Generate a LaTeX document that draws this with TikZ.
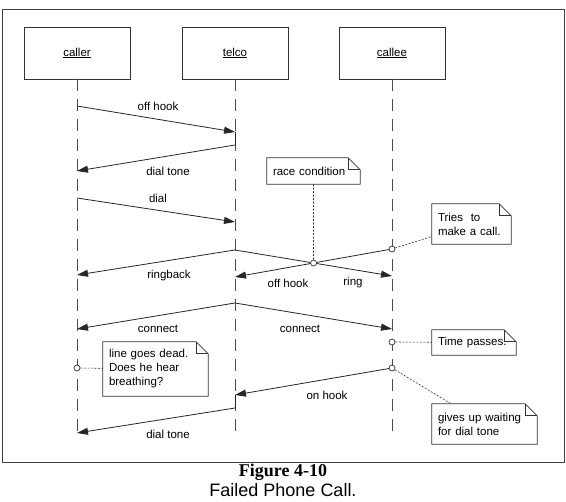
\documentclass[tikz,border=0pt]{standalone}
\usepackage{fontspec}
\setmainfont{Liberation Sans}
\newfontfamily\capserif{Liberation Serif}
\usetikzlibrary{arrows.meta,calc}
\tikzstyle{objbox}=[rectangle,draw=black!80,line width=0.8pt,minimum width=106pt,minimum height=52pt,inner sep=0pt]
\tikzstyle{lifeline}=[draw=black!70,line width=0.8pt,dash pattern=on 12pt off 8pt]
\tikzstyle{msg}=[draw=black!85,line width=0.8pt,-{Triangle[length=11pt,width=7pt]}]
\tikzstyle{msgline}=[draw=black!85,line width=0.8pt]
\tikzstyle{msglabel}=[inner sep=0pt,font=\fontsize{11.5}{14}\selectfont]
\tikzstyle{note}=[rectangle,inner xsep=6pt,inner ysep=0pt,align=left,font=\fontsize{11.5}{14}\selectfont]
\tikzstyle{notefold}=[draw=black!80,line width=0.8pt]
\tikzstyle{noteline}=[draw=black!80,line width=0.6pt,dash pattern=on 2pt off 1.5pt]
\tikzstyle{smalldot}=[circle,draw=black!80,fill=white,line width=0.7pt,minimum size=6pt,inner sep=0pt]

\begin{document}
\begin{tikzpicture}[x=1pt,y=-1pt]
    \useasboundingbox (0,0) rectangle (566,502);
    \draw[draw=black!75,line width=0.9pt] (2,9) rectangle (564,462);

    % objects and lifelines
    \foreach \x/\name in {77/caller,235/telco,392/callee} {
        \node[objbox] (\name) at (\x,53) {\fontsize{11.5}{14}\selectfont\underline{\name}};
        \coordinate (\name-end) at (\x,435);
        \draw[lifeline] (\name) -- (\name-end);
    }

    \foreach \name/\x/\y in {offa/77/106, offb/235/132, dta/235/145, dtb/77/171,
        diala/77/198, dialb/235/222, rba/235/250, rbb/77/275, ringb/392/276,
        tc/392/249, ohb/235/277, cona/235/303, conb/77/329, conc/392/329,
        tp/392/342, ld/77/368, gu/392/368, onb/235/395, dtc/235/408, dtd/77/433}
        \coordinate (\name) at (\x,\y);
    \coordinate (rc) at (intersection of rba--ringb and tc--ohb);

    % messages
    \draw[msg] (offa) -- (offb);
    \draw[msgline] (offb) -- (dta);
    \draw[msg] (dta) -- (dtb);
    \draw[msg] (diala) -- (dialb);
    \draw[msg] (rba) -- (rbb);
    \draw[msg] (rba) -- (ringb);
    \draw[msg] (tc) -- (ohb);
    \draw[msg] (cona) -- (conb);
    \draw[msg] (cona) -- (conc);
    \draw[msg] (gu) -- (onb);
    \draw[msgline] (onb) -- (dtc);
    \draw[msg] (dtc) -- (dtd);

    \node[msglabel] (l-offhook) at (158,106) {off hook};
    \node[msglabel] (l-dialtone) at (168,171) {dial tone};
    \node[msglabel] (l-dial) at (158,198) {dial};
    \node[msglabel] (l-ringback) at (169,276) {ringback};
    \node[msglabel] (l-offhook2) at (288,283) {off hook};
    \node[msglabel] (l-ring) at (353,283) {ring};
    \node[msglabel] (l-connect) at (158,329) {connect};
    \node[msglabel] (l-connect2) at (300,329) {connect};
    \node[msglabel] (l-onhook) at (327,395) {on hook};
    \node[msglabel] (l-dialtone2) at (168,434) {dial tone};

    % notes
    \node[note,text width=81pt,minimum height=26pt] (race) at (313.5,171) {race condition};
    \node[note,text width=67pt,minimum height=40pt] (tries) at (471.5,224) {Tries~ to\\make a call.};
    \node[note,text width=72pt,minimum height=25pt] (passes) at (474,342.5) {Time passes.};
    \node[note,text width=93pt,minimum height=54pt] (dead) at (155.5,369) {line goes dead.\\Does he hear\\breathing?};
    \node[note,text width=93pt,minimum height=40pt] (giveup) at (484.5,424) {gives up waiting\\for dial tone};

    \foreach \n in {race,tries,passes,dead,giveup} {
        \draw[notefold] (\n.south west) -- (\n.north west) -- ([xshift=-12pt]\n.north east)
            -- ([yshift=-12pt]\n.north east) -- (\n.south east) -- cycle;
        \draw[notefold] ([xshift=-12pt]\n.north east) |- ([yshift=-12pt]\n.north east);
    }

    \foreach \c in {rc,tc,tp,ld,gu}
        \node[smalldot] (\c-dot) at (\c) {};

    \draw[noteline] (rc-dot) -- (race);
    \draw[noteline] (tc-dot) -- (tries);
    \draw[noteline] (tp-dot) -- (passes);
    \draw[noteline] (ld-dot) -- (dead);
    \draw[noteline] (gu-dot) -- (giveup);

    \node (figno) at (283,472) {\capserif\bfseries\fontsize{18}{20}\selectfont Figure 4-10};
    \node (caption) at (283,490) {\fontsize{18}{20}\selectfont Failed Phone Call.};
\end{tikzpicture}
\end{document}
